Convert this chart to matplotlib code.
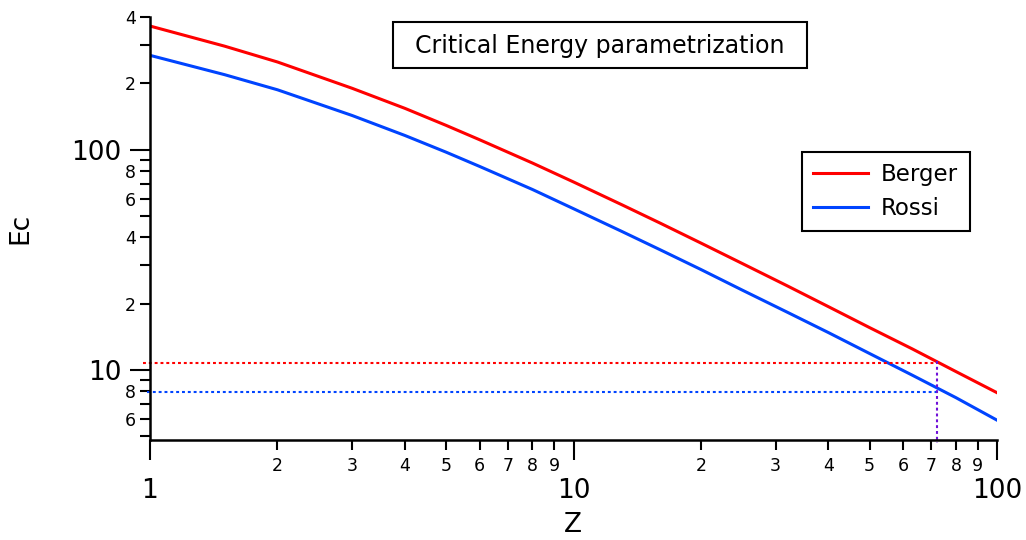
import matplotlib
matplotlib.use("Agg")
import matplotlib.pyplot as plt
from matplotlib.patches import Rectangle
from matplotlib.ticker import FixedLocator, FixedFormatter

plt.rcParams['font.family'] = ['DejaVu Sans']

# ---- data ----
z = [1, 1.5, 2, 3, 4, 5, 6, 8, 10, 13, 16, 20, 25, 32, 40, 50, 63, 80, 100]
berger = [364, 295, 250, 190, 154, 129, 111, 87, 71.4, 56.3, 46.5, 37.7,
          30.5, 24.1, 19.4, 15.6, 12.5, 9.85, 7.9]
rossi = [268, 219, 187, 143, 116, 97.5, 84, 66, 54, 42.6, 35.2, 28.6,
         23.1, 18.3, 14.8, 11.9, 9.5, 7.5, 5.93]

crit_z = 72.2
crit_berger = 10.83
crit_rossi = 7.96

x_major = [1, 10, 100]
x_major_labels = ['1', '10', '100']
x_minor = [2, 3, 4, 5, 6, 7, 8, 9, 20, 30, 40, 50, 60, 70, 80, 90]
x_minor_labels = ['2', '3', '4', '5', '6', '7', '8', '9'] * 2

y_major = [10, 100]
y_major_labels = ['10', '100']
y_minor = [5, 6, 7, 8, 9, 20, 30, 40, 50, 60, 70, 80, 90, 200, 300, 400]
y_minor_labels = ['', '6', '', '8', '', '2', '', '4', '', '6', '', '8', '',
                  '2', '', '4']

# ---- figure ----
fig = plt.figure(figsize=(10.26, 5.40), dpi=100)
ax = fig.add_axes([150/1026, 1-440/540, 847/1026, 423/540])

ax.plot(z, berger, color='#ff0000', lw=2.2, label='Berger')
ax.plot(z, rossi, color='#0044ff', lw=2.2, label='Rossi')

# dotted guide lines
ax.plot([0.963, crit_z], [crit_berger, crit_berger], color='#ff0000', lw=1.5,
        ls=(0, (1.4, 1.4)), clip_on=False)
ax.plot([0.985, crit_z], [crit_rossi, crit_rossi], color='#0044ff', lw=1.5,
        ls=(0, (1.4, 1.4)), clip_on=False)
ax.plot([crit_z, crit_z], [11.05, 4.67], color='#7010d8', lw=1.5,
        ls=(0, (1.4, 1.4)), clip_on=False)

ax.set_xscale('log')
ax.set_yscale('log')
ax.set_xlim(1, 100)
ax.set_ylim(4.82, 400)

ax.spines['right'].set_visible(False)
ax.spines['top'].set_visible(False)
ax.spines['left'].set_linewidth(1.8)
ax.spines['bottom'].set_linewidth(1.8)

ax.xaxis.set_major_locator(FixedLocator(x_major))
ax.xaxis.set_major_formatter(FixedFormatter(x_major_labels))
ax.xaxis.set_minor_locator(FixedLocator(x_minor))
ax.xaxis.set_minor_formatter(FixedFormatter(x_minor_labels))
ax.yaxis.set_major_locator(FixedLocator(y_major))
ax.yaxis.set_major_formatter(FixedFormatter(y_major_labels))
ax.yaxis.set_minor_locator(FixedLocator(y_minor))
ax.yaxis.set_minor_formatter(FixedFormatter(y_minor_labels))

ax.tick_params(which='major', direction='out', length=14.4, width=1.5,
               labelsize=19)
ax.tick_params(which='minor', direction='out', length=7.2, width=1.5,
               labelsize=12.5)
ax.tick_params(axis='x', which='major', pad=13)
ax.tick_params(axis='x', which='minor', pad=5)
ax.tick_params(axis='y', which='major', pad=6)
ax.tick_params(axis='y', which='minor', pad=3)

ax.set_xlabel('Z', fontsize=19)
ax.set_ylabel('Ec', fontsize=19)
ax.xaxis.set_label_coords(0.4994, -0.170)
ax.yaxis.set_label_coords(-0.138, 0.50)

# title box
fig.text(600/1026, 1-46/540, 'Critical Energy parametrization', fontsize=17,
         ha='center', va='center')
fig.patches.append(Rectangle((393/1026, 1-68/540), 414/1026, 46/540,
                             transform=fig.transFigure, fill=False,
                             ec='black', lw=1.5))

leg = ax.legend(loc='upper left', bbox_to_anchor=(802/1026, 1-152/540),
                bbox_transform=fig.transFigure, borderaxespad=0,
                fontsize=16.5, handlelength=2.4, handletextpad=0.55,
                labelspacing=0.45, borderpad=0.5, fancybox=False,
                framealpha=1, edgecolor='black')
leg.get_frame().set_linewidth(1.5)

fig.savefig('out.png', dpi=100)
